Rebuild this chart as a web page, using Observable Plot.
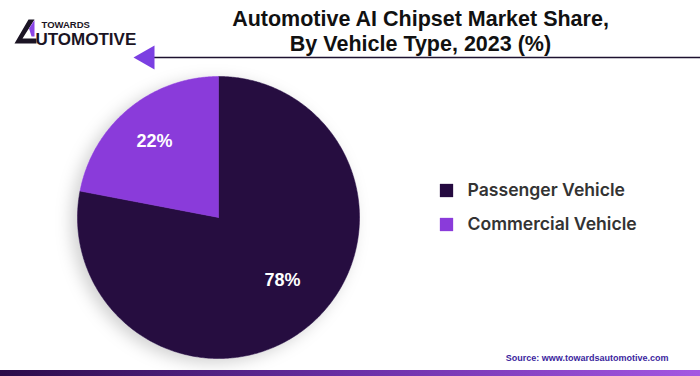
<!DOCTYPE html>
<html>
<head>
<meta charset="utf-8">
<script src="https://cdn.jsdelivr.net/npm/d3@7"></script>
<script src="https://cdn.jsdelivr.net/npm/@observablehq/plot@0.6"></script>
<style>
  html, body { margin: 0; padding: 0; background: #fff; }
  #chart svg { display: block; }
</style>
</head>
<body>
<div id="chart"></div>
<script>
// ---- data ----
const categories = ["Passenger Vehicle", "Commercial Vehicle"];
const shares = [78, 22];
const labels = ["78%", "22%"];
const colors = ["#250a40", "#8a3bda"];
const titleLines = ["Automotive AI Chipset Market Share,", "By Vehicle Type, 2023 (%)"];
const sourceText = "Source: www.towardsautomotive.com";

// ---- layout ----
const W = 700, H = 376;
const cx = 218, cy = 217, R = 141;

const arcs = d3.pie().sort(null)(shares);
const wedgePts = [];
arcs.forEach((a, i) => {
  const n = Math.max(2, Math.ceil((a.endAngle - a.startAngle) / 0.01));
  wedgePts.push({cat: categories[i], x: cx, y: cy});
  for (let k = 0; k <= n; k++) {
    const t = a.startAngle + (a.endAngle - a.startAngle) * k / n;
    wedgePts.push({cat: categories[i], x: cx + R * Math.sin(t), y: cy - R * Math.cos(t)});
  }
  wedgePts.push({cat: categories[i], x: cx, y: cy});
});
const labelPos = [{x: 282, y: 280}, {x: 154, y: 141}];
const pctData = arcs.map((a, i) => ({label: labels[i], ...labelPos[i]}));
const legendData = categories.map((c, i) => ({cat: c, x: 446, y: 190 + i * 34}));

// decorative shapes (logo)
const logoBlack = [{x: 14, y: 43}, {x: 28, y: 19}, {x: 34, y: 19}, {x: 22, y: 38}, {x: 36, y: 38}, {x: 36, y: 43}];
const logoPurple = [{x: 28.5, y: 28}, {x: 34, y: 19.5}, {x: 34, y: 36}, {x: 31, y: 36}];

const defs = () => {
  const s = d3.create("svg:defs");
  const g = s.append("linearGradient").attr("id", "bar").attr("x1", "0").attr("x2", "1");
  g.append("stop").attr("offset", "0").attr("stop-color", "#2a0b48");
  g.append("stop").attr("offset", "0.5").attr("stop-color", "#6a2fa6");
  g.append("stop").attr("offset", "1").attr("stop-color", "#a457e2");
  const f = s.append("filter").attr("id", "sh").attr("x", "-20%").attr("y", "-20%").attr("width", "140%").attr("height", "140%");
  f.append("feDropShadow").attr("dx", "-6").attr("dy", "4").attr("stdDeviation", "8").attr("flood-color", "#000").attr("flood-opacity", "0.18");
  const fl = s.append("filter").attr("id", "lsh").attr("x", "-5%").attr("y", "-200%").attr("width", "110%").attr("height", "500%");
  fl.append("feGaussianBlur").attr("stdDeviation", "2");
  return s.node();
};

const font = "'Liberation Sans', Arial, sans-serif";

const chart = Plot.plot({
  width: W, height: H,
  margin: 0,
  x: {domain: [0, W], range: [0, W], axis: null},
  y: {domain: [0, H], range: [0, H], axis: null},
  color: {domain: categories, range: colors},
  style: {fontFamily: font, background: "#fff"},
  marks: [
    defs,
    // header rule shadow + rule
    Plot.ruleY([60], {x1: 150, x2: 700, stroke: "#999", strokeWidth: 3, strokeOpacity: 0.35}),
    Plot.ruleY([57], {x1: 150, x2: 700, stroke: "#1d1230", strokeWidth: 1.6}),
    Plot.dot([{x: 147, y: 57}], {x: "x", y: "y", symbol: "triangle", r: 9, rotate: -90, fill: "#7b3fe2", stroke: "none"}),
    // logo
    Plot.line(logoBlack, {x: "x", y: "y", fill: "#1b1424", stroke: "none"}),
    Plot.line(logoPurple, {x: "x", y: "y", fill: "#8a45e6", stroke: "none"}),
    Plot.text([{x: 41, y: 27, t: "TOWARDS"}], {x: "x", y: "y", text: "t", textAnchor: "start", lineAnchor: "bottom", fontSize: 9.5, fontWeight: "bold", fill: "#1b1424"}),
    Plot.text([{x: 35, y: 44, t: "UTOMOTIVE"}], {x: "x", y: "y", text: "t", textAnchor: "start", lineAnchor: "bottom", fontSize: 17, fontWeight: 900, fill: "#1b1424"}),
    // title
    Plot.text(titleLines.map((t, i) => ({t, x: 420, y: 25 + i * 25})), {x: "x", y: "y", text: "t", lineAnchor: "bottom", fontSize: 21.5, fontWeight: "bold", fill: "#111"}),
    // pie
    Plot.line(wedgePts, {x: "x", y: "y", z: "cat", fill: "cat", stroke: "cat", strokeWidth: 0.5, curve: "linear"}),
    Plot.text(pctData, {x: "x", y: "y", text: "label", fontSize: 18, fontWeight: "bold", fill: "#fff"}),
    // legend
    Plot.dot(legendData, {x: "x", y: "y", symbol: "square", r: 7.5, fill: "cat", stroke: "none"}),
    Plot.text(legendData, {x: d => d.x + 21, y: "y", text: "cat", textAnchor: "start", fontSize: 17.6, fontWeight: 600, fill: "#333", fontFamily: "Inter, sans-serif"}),
    // source
    Plot.text([{x: 668, y: 358, t: sourceText}], {x: "x", y: "y", text: "t", textAnchor: "end", fontSize: 9, fontWeight: "bold", fill: "#3b1f9e"}),
    // bottom bar
    Plot.rect([{x1: 0, x2: W, y1: 370, y2: H}], {x1: "x1", x2: "x2", y1: "y1", y2: "y2", fill: "url(#bar)"})
  ]
});

d3.select(chart).selectAll('g[aria-label="line"]').filter((d, i, n) => n[i].querySelectorAll("path").length === 2).attr("filter", "url(#sh)");
d3.select(chart).select('g[aria-label="rule"]').attr("filter", "url(#lsh)");
document.getElementById("chart").appendChild(chart);
</script>
</body>
</html>
